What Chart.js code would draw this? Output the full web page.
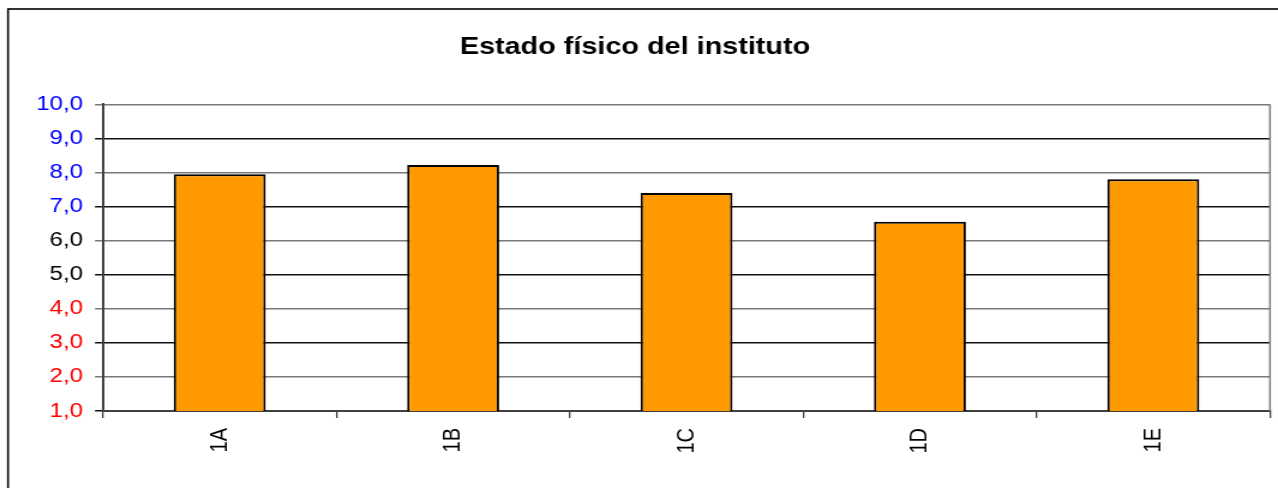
<!DOCTYPE html>
<html>
<head>
<meta charset="utf-8">
<script src="https://cdn.jsdelivr.net/npm/chart.js@4/dist/chart.umd.min.js"></script>
<style>
  html, body { margin: 0; padding: 0; background: #fff; overflow: hidden; }
  canvas { display: block; }
</style>
</head>
<body>
<canvas id="c" width="1065" height="488" style="width:1278px;height:488px"></canvas>
<script>
const chartTitle = 'Estado físico del instituto';
const categories = ['1A', '1B', '1C', '1D', '1E'];
const values = [7.95, 8.22, 7.4, 6.55, 7.8];
const yTickValues = [1, 2, 3, 4, 5, 6, 7, 8, 9, 10];
const yTickLabels = ['1,0', '2,0', '3,0', '4,0', '5,0', '6,0', '7,0', '8,0', '9,0', '10,0'];

// the reference picture is horizontally stretched; draw narrower and stretch by CSS
const SX = 1278 / 1065;

function tickColor(v) {
  if (v >= 7) return '#0000FF';
  if (v >= 5) return '#000000';
  return '#FF0000';
}

const framePlugin = {
  id: 'frame',
  beforeDraw(chart) {
    const ctx = chart.ctx;
    ctx.save();
    ctx.fillStyle = '#fff';
    ctx.fillRect(0, 0, chart.width, chart.height);
    ctx.strokeStyle = '#000';
    ctx.lineWidth = 1.6;
    ctx.strokeRect(8 / SX, 9, 1400, 700);
    ctx.restore();
  },
  afterDatasetsDraw(chart) {
    const a = chart.chartArea;
    const ctx = chart.ctx;
    ctx.save();
    ctx.strokeStyle = '#808080';
    ctx.lineWidth = 1.6;
    ctx.beginPath();
    ctx.moveTo(a.right, a.top);
    ctx.lineTo(a.right, a.bottom);
    ctx.stroke();
    ctx.restore();
  }
};

new Chart(document.getElementById('c'), {
  type: 'bar',
  data: {
    labels: categories,
    datasets: [{
      data: values,
      backgroundColor: '#FF9900',
      borderColor: '#000000',
      borderWidth: 2,
      barPercentage: 0.394,
      categoryPercentage: 1.0
    }]
  },
  options: {
    responsive: false,
    animation: false,
    devicePixelRatio: 1,
    layout: { padding: { left: 0, right: 8 / SX, top: 0, bottom: 0 } },
    plugins: {
      legend: { display: false },
      tooltip: { enabled: false },
      title: {
        display: true,
        text: chartTitle,
        color: '#000',
        font: { family: 'Liberation Sans, Arial, sans-serif', size: 24, weight: 'bold', lineHeight: 1.2 },
        padding: { top: 33, bottom: 42.5 }
      }
    },
    scales: {
      x: {
        offset: true,
        grid: {
          offset: true,
          drawOnChartArea: false,
          drawTicks: true,
          tickLength: 7,
          color: '#404040',
          lineWidth: 1.3
        },
        border: { display: true, color: '#404040', width: 2 },
        ticks: {
          color: '#000',
          minRotation: 90,
          maxRotation: 90,
          padding: 10,
          font: { family: 'Liberation Sans, Arial, sans-serif', size: 20 }
        },
        afterFit(scale) { scale.height = 77; }
      },
      y: {
        min: 1,
        max: 10,
        afterBuildTicks(scale) {
          scale.ticks = yTickValues.map(v => ({ value: v }));
        },
        grid: {
          drawTicks: true,
          tickLength: 8 / SX,
          color: (ctx) => (ctx.tick && ctx.tick.value % 2 === 0) ? '#787878' : '#111111',
          lineWidth: 1.5
        },
        border: { display: true, color: '#404040', width: 2 },
        ticks: {
          padding: 10,
          color: (ctx) => tickColor(ctx.tick.value),
          font: { family: 'Liberation Sans, Arial, sans-serif', size: 20 },
          callback: (v) => yTickLabels[yTickValues.indexOf(v)]
        },
        afterFit(scale) { scale.width = 103 / SX; }
      }
    }
  },
  plugins: [framePlugin]
});
</script>
</body>
</html>
